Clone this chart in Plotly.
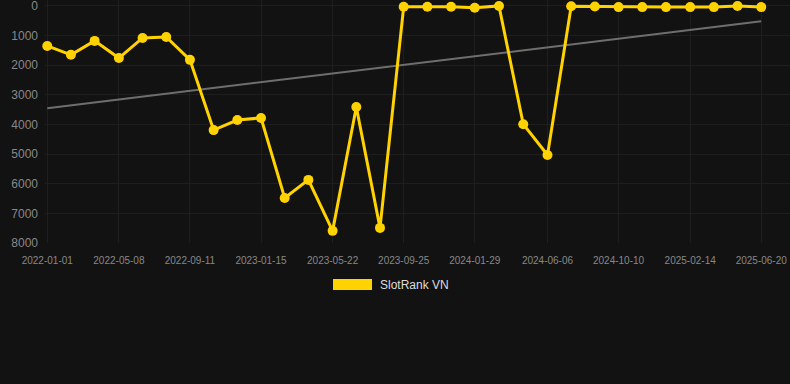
import plotly.graph_objects as go

dates = ["2022-01-01", "2022-02-12", "2022-03-26", "2022-05-08", "2022-06-19", "2022-07-31",
         "2022-09-11", "2022-10-23", "2022-12-04", "2023-01-15", "2023-02-26", "2023-04-09",
         "2023-05-22", "2023-07-03", "2023-08-14", "2023-09-25", "2023-11-06", "2023-12-18",
         "2024-01-29", "2024-03-12", "2024-04-24", "2024-06-06", "2024-07-18", "2024-08-29",
         "2024-10-10", "2024-11-21", "2025-01-02", "2025-02-14", "2025-03-28", "2025-05-09",
         "2025-06-20"]
ranks = [1350, 1650, 1180, 1760, 1080, 1050, 1820, 4190, 3850, 3780, 6480, 5870, 7590, 3410,
         7490, 30, 30, 30, 60, 0, 3990, 5030, 10, 20, 40, 40, 40, 40, 40, 0, 40]
trend_dates = ["2022-01-01", "2025-06-20"]
trend_vals = [3450, 520]
tick_dates = ["2022-01-01", "2022-05-08", "2022-09-11", "2023-01-15", "2023-05-22", "2023-09-25",
              "2024-01-29", "2024-06-06", "2024-10-10", "2025-02-14", "2025-06-20"]
y_ticks = [0, 1000, 2000, 3000, 4000, 5000, 6000, 7000, 8000]
series_name = "SlotRank VN"
series_color = "#FFD200"

fig = go.Figure()
fig.add_trace(go.Scatter(x=trend_dates, y=trend_vals, mode="lines",
                         line=dict(color="#6e6e6e", width=2), showlegend=False, hoverinfo="skip"))
fig.add_trace(go.Scatter(x=dates, y=ranks, mode="lines+markers", name=series_name,
                         line=dict(color=series_color, width=3), cliponaxis=False,
                         marker=dict(color=series_color, size=10), showlegend=False))

# legend (custom, rectangle swatch like the reference)
fig.add_shape(type="rect", xref="paper", yref="paper",
              x0=(333 - 45) / 745, x1=(372 - 45) / 745,
              y0=(243 - 290) / 243, y1=(243 - 279) / 243,
              fillcolor=series_color, line=dict(width=0))
fig.add_annotation(xref="paper", yref="paper", x=(378 - 45) / 745, y=(243 - 285) / 243,
                   xanchor="left", yanchor="middle", text=series_name, showarrow=False,
                   font=dict(color="#dddddd", size=12))

fig.update_layout(
    width=790, height=384,
    margin=dict(l=45, r=0, t=0, b=141),
    paper_bgcolor="#121212", plot_bgcolor="#121212",
    font=dict(family="Liberation Sans, Arial, sans-serif", color="#888888"),
    showlegend=False,
    xaxis=dict(type="date", range=["2021-12-28", "2025-08-10"],
               tickvals=tick_dates, ticktext=tick_dates,
               showgrid=True, gridcolor="#1e1e1e", gridwidth=1, zeroline=False,
               showline=False, tickfont=dict(size=10, color="#888888"), ticks="",
               ticklabelstandoff=10),
    yaxis=dict(range=[8000, -200], tickvals=y_ticks, ticktext=[str(v) for v in y_ticks],
               showgrid=True, gridcolor="#1e1e1e", gridwidth=1, zeroline=False,
               showline=False, tickfont=dict(size=12, color="#888888"), ticks="",
               ticklabelstandoff=6, ticklabeloverflow="allow"),
)
fig.write_html("out.html")
